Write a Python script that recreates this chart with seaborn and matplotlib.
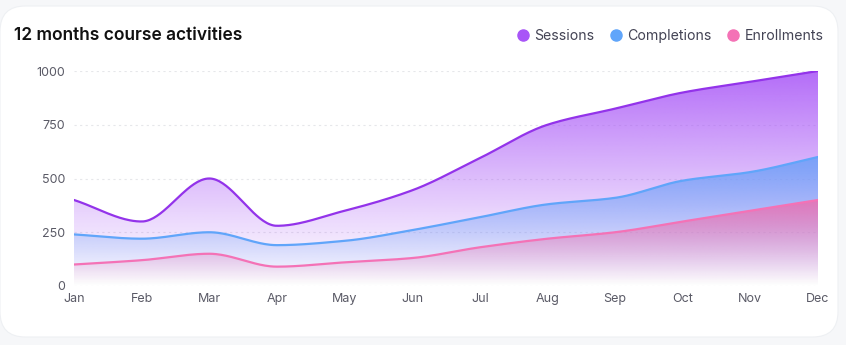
import numpy as np
import pandas as pd
import seaborn as sns
import matplotlib
matplotlib.use("Agg")
import matplotlib.pyplot as plt
from matplotlib.patches import FancyBboxPatch
from matplotlib.lines import Line2D
from matplotlib.colors import to_rgb

months = ["Jan", "Feb", "Mar", "Apr", "May", "Jun", "Jul", "Aug", "Sep", "Oct", "Nov", "Dec"]
sessions = [400, 300, 500, 280, 350, 445, 595, 750, 825, 900, 950, 1000]
completions = [240, 220, 250, 190, 210, 260, 320, 380, 410, 490, 530, 600]
enrollments = [100, 120, 150, 90, 110, 130, 180, 220, 250, 300, 350, 400]
yticks = [0, 250, 500, 750, 1000]

series = {"Sessions": sessions, "Completions": completions, "Enrollments": enrollments}
line_colors = {"Sessions": "#9333ea", "Completions": "#60a5fa", "Enrollments": "#f472b6"}
fill_colors = {"Sessions": "#a855f7", "Completions": "#6ba0f8", "Enrollments": "#ec6fb0"}
dot_colors = {"Sessions": "#a855f7", "Completions": "#60a5fa", "Enrollments": "#f472b6"}


def monotone(xs, ys, n=40):
    xs = np.asarray(xs, float); ys = np.asarray(ys, float)
    h = np.diff(xs); d = np.diff(ys) / h
    m = np.zeros_like(ys)
    m[0] = d[0]; m[-1] = d[-1]
    for i in range(1, len(ys) - 1):
        if d[i - 1] * d[i] <= 0:
            m[i] = 0
        else:
            m[i] = 2 / (1 / d[i - 1] + 1 / d[i])
    ox, oy = [], []
    for i in range(len(xs) - 1):
        t = np.linspace(0, 1, n, endpoint=(i == len(xs) - 2))
        h00 = 2 * t**3 - 3 * t**2 + 1
        h10 = t**3 - 2 * t**2 + t
        h01 = -2 * t**3 + 3 * t**2
        h11 = t**3 - t**2
        ox.append(xs[i] + t * h[i])
        oy.append(h00 * ys[i] + h10 * h[i] * m[i] + h01 * ys[i + 1] + h11 * h[i] * m[i + 1])
    return np.concatenate(ox), np.concatenate(oy)


xpos = np.arange(len(months))
frames = []
for name, vals in series.items():
    sx, sy = monotone(xpos, vals)
    frames.append(pd.DataFrame({"x": sx, "y": sy, "series": name}))
df = pd.concat(frames)

sns.set_theme(style="white")
plt.rcParams["font.family"] = ["Inter", "DejaVu Sans"]

fig = plt.figure(figsize=(8.46, 3.45), dpi=100)
fig.patch.set_facecolor("#f6f7f9")
card = FancyBboxPatch((0.0 / 846, 1 - 337 / 345), 838 / 846, 331 / 345,
                      boxstyle="round,pad=0,rounding_size=0.03",
                      transform=fig.transFigure, facecolor="white", edgecolor="#eef0f3",
                      linewidth=0.8, zorder=-5, mutation_aspect=846 / 345)
fig.patches.append(card)

ax = fig.add_axes([74 / 846, 1 - 286 / 345, 744 / 846, 215 / 345])
ax.set_zorder(2)
ax.set_facecolor("none")
ax.set_xlim(0, 11)
ax.set_ylim(0, 1000)

# gradient fills
for z, name in enumerate(series):
    sub = df[df.series == name]
    poly = ax.fill_between(sub.x, 0, sub.y, color="none", linewidth=0)
    ymax = max(series[name])
    rgb = np.array(to_rgb(fill_colors[name]))
    nrow = 256
    alpha = np.linspace(0.88, 0.0, nrow) ** 1.15
    img = np.zeros((nrow, 2, 4))
    img[:, :, :3] = rgb
    img[:, :, 3] = alpha[:, None]
    im = ax.imshow(img, extent=[0, 11, 0, ymax], aspect="auto", origin="upper",
                   zorder=1 + z, interpolation="bilinear")
    im.set_clip_path(poly.get_paths()[0], transform=ax.transData)

sns.lineplot(data=df, x="x", y="y", hue="series", palette=line_colors, sort=False,
             estimator=None, linewidth=1.6, legend=False, ax=ax, zorder=5)

ax.set_xlim(0, 11)
ax.set_ylim(0, 1000)
ax.set_yticks(yticks)
ax.set_xticks(xpos)
ax.set_xticklabels(months)
for yv in yticks:
    ax.axhline(yv, color="#e6e7ea", linestyle=(0, (2, 3)), linewidth=0.8, zorder=0)
for s in ax.spines.values():
    s.set_visible(False)
ax.tick_params(axis="both", length=0, labelsize=9, colors="#5a5a66")
ax.tick_params(axis="y", pad=6.5)
ax.tick_params(axis="x", pad=5)
ax.set_xlabel("")
ax.set_ylabel("")

fig.text(14 / 846, 1 - 36 / 345, "12 months course activities", fontsize=12.5,
         fontweight="semibold", color="#111111", va="center", ha="left")

handles = [Line2D([0], [0], marker="o", linestyle="", markersize=8,
                  markerfacecolor=dot_colors[n], markeredgecolor=dot_colors[n]) for n in series]
leg = fig.legend(handles, list(series.keys()), loc="center right", ncol=3,
                 bbox_to_anchor=(836 / 846, 1 - 36 / 345), frameon=False,
                 fontsize=10.2, handletextpad=0.3, columnspacing=1.0, handlelength=1.0)
for t in leg.get_texts():
    t.set_color("#444455")

fig.savefig("out.png", dpi=100, facecolor=fig.get_facecolor())
